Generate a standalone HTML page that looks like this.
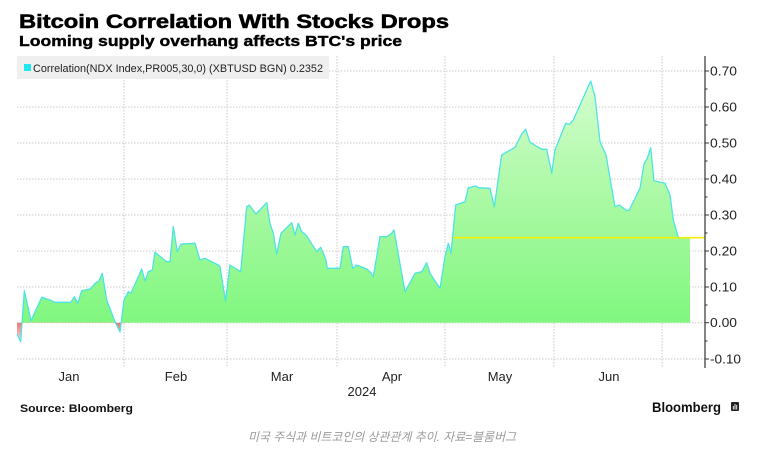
<!DOCTYPE html>
<html><head><meta charset="utf-8"><style>
html,body{margin:0;padding:0;background:#fff;}
svg{display:block;}
text{font-family:"Liberation Sans","Noto Sans CJK KR",sans-serif;}
</style></head><body>
<svg width="761" height="453" viewBox="0 0 761 453" xmlns="http://www.w3.org/2000/svg">
<defs>
<linearGradient id="gg" gradientUnits="userSpaceOnUse" x1="0" y1="81" x2="0" y2="323">
<stop offset="0" stop-color="#d4fdce"/><stop offset="0.5" stop-color="#a9f9a3"/><stop offset="1" stop-color="#80f77f"/>
</linearGradient>
<linearGradient id="rg" gradientUnits="userSpaceOnUse" x1="0" y1="323" x2="0" y2="343">
<stop offset="0" stop-color="#f07676"/><stop offset="1" stop-color="#fbe4e4"/>
</linearGradient>
<clipPath id="cpos"><rect x="0" y="0" width="761" height="322.7"/></clipPath>
<clipPath id="cneg"><rect x="0" y="322.7" width="761" height="100"/></clipPath>
</defs>
<rect width="761" height="453" fill="#fff"/>
<text x="19" y="28" font-size="19" font-weight="bold" fill="#000" stroke="#000" stroke-width="0.55" textLength="430" lengthAdjust="spacingAndGlyphs">Bitcoin Correlation With Stocks Drops</text>
<text x="19" y="46" font-size="15" font-weight="bold" fill="#000" stroke="#000" stroke-width="0.4" textLength="383" lengthAdjust="spacingAndGlyphs">Looming supply overhang affects BTC's price</text>
<g stroke="#c9c9c9" stroke-width="1" stroke-dasharray="1.5,1.5" fill="none">
<line x1="17" y1="71" x2="705" y2="71"/><line x1="17" y1="107" x2="705" y2="107"/><line x1="17" y1="143" x2="705" y2="143"/><line x1="17" y1="179" x2="705" y2="179"/><line x1="17" y1="215" x2="705" y2="215"/><line x1="17" y1="251" x2="705" y2="251"/><line x1="17" y1="287" x2="705" y2="287"/><line x1="17" y1="322.7" x2="705" y2="322.7"/><line x1="17" y1="359" x2="705" y2="359"/>
<line x1="124" y1="56" x2="124" y2="368"/><line x1="227" y1="56" x2="227" y2="368"/><line x1="337" y1="56" x2="337" y2="368"/><line x1="445" y1="56" x2="445" y2="368"/><line x1="554" y1="56" x2="554" y2="368"/><line x1="662" y1="56" x2="662" y2="368"/>
</g>
<g id="area">
<polygon clip-path="url(#cpos)" fill="url(#gg)" points="17,334 20.7,341.7 24.3,290.7 31,320.7 41.7,297.3 50,300 55,302.3 70.7,302.3 74.3,296.7 77.7,303.3 81.7,290.7 90.7,288.7 95,283.3 98.7,281.3 102.3,273.3 106.7,300 115,321.7 120,332 124,300 128.3,291.7 131,293.3 141.7,269 145,281 148.3,271.7 152.3,270 155,252.3 166.7,261.7 170,261.7 173.3,226.7 177.3,251.7 181,244 195,243.3 200,260 205,258.3 218.3,265 220,266.7 225.5,301 230,265 240.7,271.7 246.7,206.7 249.3,205 256,214 266.7,202.7 270,223.3 273.3,233.3 276.7,254 281,233.3 291.7,222.7 295,235 298.3,223.3 301.7,231.7 306,235 316.7,251.7 320.7,247.3 326,260 327.3,268.3 340,268.3 343.3,246.7 348.3,246.7 352.7,268.3 356.7,265 366.7,269 370,271.7 373.3,276.7 380,236.7 386.7,236.7 391.7,233.3 394,230 405,291.7 415,273.3 421.7,271.7 426.7,262.7 430,273.3 440,288.3 445,256.7 448.3,243.3 451,253.3 455.7,205 465,201.7 468.3,187.7 476,186 478.3,187.7 490,188.3 494.3,206.7 501.7,155 515,147.3 521.7,134 525.7,129.3 530,142.3 541.7,149.3 546.7,149.3 551.7,173.3 555,150 565.7,123.3 569.3,124.3 573.3,120 590.7,81 595,96.7 600,141.7 606,155 615,206.7 619.3,205 626.7,210.7 629.3,210 640,188.3 644,164 647.3,158.3 650.7,147.7 654,180.7 665,183.3 670,195 673.3,220 678.3,237.5 690,237.5 690,322.7 17,322.7"/>
<polygon clip-path="url(#cneg)" fill="url(#rg)" points="17,322.7 17,334 20.7,341.7 24.3,290.7 31,320.7 106.7,300 115,321.7 120,332 124,300 130,322.7"/>
</g>
<line x1="451.7" y1="237.7" x2="705" y2="237.7" stroke="#f5f000" stroke-width="1.6"/>
<polyline fill="none" stroke="#4ee4e4" stroke-width="1.3" stroke-linejoin="round" points="17,334 20.7,341.7 24.3,290.7 31,320.7 41.7,297.3 50,300 55,302.3 70.7,302.3 74.3,296.7 77.7,303.3 81.7,290.7 90.7,288.7 95,283.3 98.7,281.3 102.3,273.3 106.7,300 115,321.7 120,332 124,300 128.3,291.7 131,293.3 141.7,269 145,281 148.3,271.7 152.3,270 155,252.3 166.7,261.7 170,261.7 173.3,226.7 177.3,251.7 181,244 195,243.3 200,260 205,258.3 218.3,265 220,266.7 225.5,301 230,265 240.7,271.7 246.7,206.7 249.3,205 256,214 266.7,202.7 270,223.3 273.3,233.3 276.7,254 281,233.3 291.7,222.7 295,235 298.3,223.3 301.7,231.7 306,235 316.7,251.7 320.7,247.3 326,260 327.3,268.3 340,268.3 343.3,246.7 348.3,246.7 352.7,268.3 356.7,265 366.7,269 370,271.7 373.3,276.7 380,236.7 386.7,236.7 391.7,233.3 394,230 405,291.7 415,273.3 421.7,271.7 426.7,262.7 430,273.3 440,288.3 445,256.7 448.3,243.3 451,253.3 455.7,205 465,201.7 468.3,187.7 476,186 478.3,187.7 490,188.3 494.3,206.7 501.7,155 515,147.3 521.7,134 525.7,129.3 530,142.3 541.7,149.3 546.7,149.3 551.7,173.3 555,150 565.7,123.3 569.3,124.3 573.3,120 590.7,81 595,96.7 600,141.7 606,155 615,206.7 619.3,205 626.7,210.7 629.3,210 640,188.3 644,164 647.3,158.3 650.7,147.7 654,180.7 665,183.3 670,195 673.3,220 678.3,237.5"/>
<rect x="17" y="56" width="312" height="23" fill="#efefef"/>
<rect x="24" y="64" width="7" height="7" fill="#22e6ee"/>
<text x="33" y="72" font-size="11" fill="#222" textLength="290" lengthAdjust="spacingAndGlyphs">Correlation(NDX Index,PR005,30,0) (XBTUSD BGN) 0.2352</text>
<line x1="705" y1="56" x2="705" y2="368" stroke="#333" stroke-width="1.2"/>
<g stroke="#333" stroke-width="1">
<line x1="705" y1="71" x2="709" y2="71"/><line x1="705" y1="107" x2="709" y2="107"/><line x1="705" y1="143" x2="709" y2="143"/><line x1="705" y1="179" x2="709" y2="179"/><line x1="705" y1="215" x2="709" y2="215"/><line x1="705" y1="251" x2="709" y2="251"/><line x1="705" y1="287" x2="709" y2="287"/><line x1="705" y1="322.7" x2="709" y2="322.7"/><line x1="705" y1="359" x2="709" y2="359"/>
<line x1="705" y1="89" x2="707.5" y2="89"/><line x1="705" y1="125" x2="707.5" y2="125"/><line x1="705" y1="161" x2="707.5" y2="161"/><line x1="705" y1="197" x2="707.5" y2="197"/><line x1="705" y1="233" x2="707.5" y2="233"/><line x1="705" y1="269" x2="707.5" y2="269"/><line x1="705" y1="305" x2="707.5" y2="305"/><line x1="705" y1="341" x2="707.5" y2="341"/>
</g>
<g font-size="13" fill="#222">
<text x="710" y="75.5" textLength="27" lengthAdjust="spacingAndGlyphs">0.70</text>
<text x="710" y="111.5" textLength="27" lengthAdjust="spacingAndGlyphs">0.60</text>
<text x="710" y="147.5" textLength="27" lengthAdjust="spacingAndGlyphs">0.50</text>
<text x="710" y="183.5" textLength="27" lengthAdjust="spacingAndGlyphs">0.40</text>
<text x="710" y="219.5" textLength="27" lengthAdjust="spacingAndGlyphs">0.30</text>
<text x="710" y="255.5" textLength="27" lengthAdjust="spacingAndGlyphs">0.20</text>
<text x="710" y="291.5" textLength="27" lengthAdjust="spacingAndGlyphs">0.10</text>
<text x="710" y="327" textLength="27" lengthAdjust="spacingAndGlyphs">0.00</text>
<text x="710" y="363.5" textLength="31" lengthAdjust="spacingAndGlyphs">-0.10</text>
</g>
<g font-size="13" fill="#222" text-anchor="middle">
<text x="69" y="381">Jan</text>
<text x="176" y="381">Feb</text>
<text x="282" y="381">Mar</text>
<text x="392" y="381">Apr</text>
<text x="500" y="381">May</text>
<text x="609" y="381">Jun</text>
<text x="362" y="396">2024</text>
</g>
<text x="20" y="412" font-size="11" font-weight="bold" fill="#111" textLength="113" lengthAdjust="spacingAndGlyphs">Source: Bloomberg</text>
<text x="652" y="412" font-size="14" font-weight="bold" fill="#111" textLength="69" lengthAdjust="spacingAndGlyphs">Bloomberg</text>
<rect x="731" y="402" width="8" height="9" rx="1" fill="#222"/>
<g stroke="#fff" stroke-width="0.9"><line x1="733.3" y1="409.5" x2="733.3" y2="406"/><line x1="735" y1="409.5" x2="735" y2="404"/><line x1="736.7" y1="409.5" x2="736.7" y2="405"/></g>
<text x="382" y="441" font-size="12" font-style="italic" fill="#9a9a9a" text-anchor="middle" textLength="268" lengthAdjust="spacingAndGlyphs">미국 주식과 비트코인의 상관관계 추이. 자료=블룸버그</text>
</svg>
</body></html>
